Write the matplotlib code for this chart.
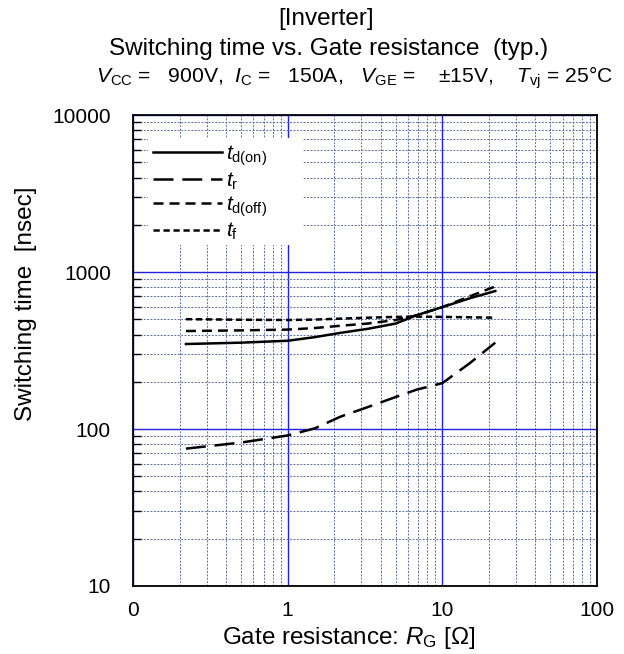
import numpy as np
import matplotlib
matplotlib.use("Agg")
import matplotlib.pyplot as plt
from matplotlib.patches import Rectangle
from matplotlib.ticker import FixedLocator, LogLocator, NullFormatter

plt.rcParams['font.family'] = ['Liberation Sans', 'DejaVu Sans']
plt.rcParams['mathtext.fontset'] = 'custom'
plt.rcParams['mathtext.rm'] = 'Liberation Sans'
plt.rcParams['mathtext.it'] = 'Liberation Sans:italic'
plt.rcParams['mathtext.bf'] = 'Liberation Sans:bold'

# === data ===
rg = [0.22, 0.5, 1.0, 1.5, 2.2, 3.3, 5.0, 6.8, 10.0, 15.0, 22.0]
td_on = [348, 355, 365, 385, 410, 435, 470, 530, 598, 680, 757]
t_r = [75, 82, 91, 101, 120, 138, 160, 178, 196, 262, 355]
td_off = [421, 425, 430, 440, 455, 470, 495, 530, 598, 700, 810]
t_f = [501, 497, 495, 498, 505, 512, 518, 520, 518, 515, 512]

series = [
    (td_on, r'$t_{\mathrm{d(on)}}$', None),
    (t_r, r'$t_{\mathrm{r}}$', (8, 3.5)),
    (td_off, r'$t_{\mathrm{d(off)}}$', (4, 2.4)),
    (t_f, r'$t_{\mathrm{f}}$', (2.5, 1.5)),
]

fig = plt.figure(figsize=(6.24, 6.54), dpi=100)
ax = fig.add_axes([0.2131, 0.104, 0.7436, 0.72])
ax.set_xscale('log')
ax.set_yscale('log')
ax.set_xlim(0.1, 100)
ax.set_ylim(10, 10000)

# grid: major solid blue, minor dashed
ax.xaxis.set_major_locator(FixedLocator([0.1, 1, 10, 100]))
ax.yaxis.set_major_locator(FixedLocator([10, 100, 1000, 10000]))
ax.xaxis.set_minor_locator(LogLocator(base=10, subs=np.arange(2, 10)))
ax.yaxis.set_minor_locator(LogLocator(base=10, subs=np.arange(2, 10)))
ax.xaxis.set_minor_formatter(NullFormatter())
ax.yaxis.set_minor_formatter(NullFormatter())
ax.grid(True, which='major', color='#2020e0', lw=1.0, ls='-')
ax.grid(True, which='minor', color='#5a6fa0', lw=0.7, ls=(0, (2, 1.5)))
ax.set_axisbelow(True)

ax.set_xticks([0.1, 1, 10, 100])
ax.set_xticklabels(['0', '1', '10', '100'])
ax.set_yticks([10, 100, 1000, 10000])
ax.set_yticklabels(['10', '100', '1000', '10000'])
ax.tick_params(which='major', length=0, labelsize=15)
ax.tick_params(axis='y', which='major', pad=16)
ax.tick_params(axis='x', which='major', pad=11)
ax.tick_params(axis='y', which='minor', direction='in', length=6, width=1, color='black')
ax.tick_params(axis='x', which='minor', length=0)

for sp in ax.spines.values():
    sp.set_linewidth(1.3)

# white box behind the legend (hides the grid there)
ax.add_patch(Rectangle((0.032, 0.724), 0.334, 0.227, transform=ax.transAxes,
                       facecolor='white', edgecolor='none', zorder=1))

for vals, lab, dash in series:
    line, = ax.plot(rg, vals, color='black', lw=1.8, label=lab, zorder=3)
    if dash is not None:
        line.set_dashes(dash)

leg = ax.legend(loc='upper left', bbox_to_anchor=(0.032, 0.951), frameon=False,
                fontsize=15, handlelength=3.3, handletextpad=0.2,
                labelspacing=0.12, borderpad=0.25, borderaxespad=0.0)

ax.set_xlabel(r'Gate resistance: $R_{\mathrm{G}}$ [$\Omega$]', fontsize=17.5)
ax.xaxis.set_label_coords(0.465, -0.083)
ax.set_ylabel('Switching time  [nsec]', fontsize=17.5)
ax.yaxis.set_label_coords(-0.207, 0.599)

fig.text(0.522, 0.971, '[Inverter]', ha='center', va='center', fontsize=17.5)
fig.text(0.526, 0.925, 'Switching time vs. Gate resistance  (typ.)', ha='center',
         va='center', fontsize=17.5)
fig.text(0.568, 0.881,
         r'$V_{\mathrm{CC}}$ =   900V,  $I_{\mathrm{C}}$ =   150A,   '
         r'$V_{\mathrm{GE}}$ =    ±15V,    $T_{\mathrm{vj}}$ = 25°C',
         ha='center', va='center', fontsize=15.2)

fig.savefig('out.png', dpi=100)
